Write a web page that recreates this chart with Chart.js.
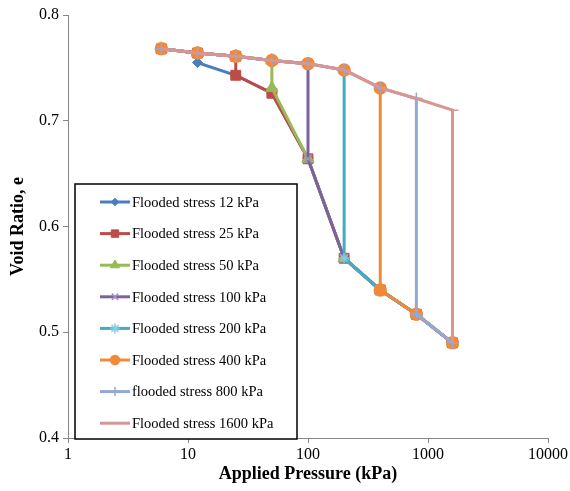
<!DOCTYPE html>
<html lang="en">
<head>
    <meta charset="UTF-8">
    <title>Void Ratio vs Applied Pressure</title>
    <script src="https://cdn.jsdelivr.net/npm/chart.js"></script>
    <style>
        body { margin: 0; background: #fff; }
    </style>
</head>
<body>
    <canvas id="chart" width="570" height="491"></canvas>

    <script>
        // Applied pressure steps (kPa) and the common loading curve before flooding
        const pressures = [6, 12, 25, 50, 100, 200, 400, 800, 1600];
        const dryCurve = [0.768, 0.764, 0.761, 0.757, 0.754, 0.748, 0.731, 0.721, 0.710];

        // Each series: flooding stress, void ratio right after flooding, then later steps
        const floodStress = [12, 25, 50, 100, 200, 400, 800, 1600];
        const wetCurve = {
            12:   [0.755, 0.743, 0.726, 0.664, 0.570, 0.540, 0.517, 0.490],
            25:   [0.743, 0.726, 0.664, 0.570, 0.540, 0.517, 0.490],
            50:   [0.731, 0.664, 0.570, 0.540, 0.517, 0.490],
            100:  [0.664, 0.570, 0.540, 0.517, 0.490],
            200:  [0.570, 0.540, 0.517, 0.490],
            400:  [0.540, 0.517, 0.490],
            800:  [0.517, 0.490],
            1600: [0.490]
        };

        const labels = [
            'Flooded stress 12 kPa', 'Flooded stress 25 kPa', 'Flooded stress 50 kPa',
            'Flooded stress 100 kPa', 'Flooded stress 200 kPa', 'Flooded stress 400 kPa',
            'flooded stress 800 kPa', 'Flooded stress 1600 kPa'
        ];
        const colors = ['#4a7ebb', '#be4b48', '#98b954', '#7d60a0', '#46aac5', '#f08a3a', '#92a9d4', '#d99593'];
        const markerColors = ['#4a7ebb', '#be4b48', '#98b954', '#a38fc4', '#7fcfe0', '#f08a3a', '#92a9d4', '#d99593'];

        // Excel-like asterisk marker (Chart.js has no true asterisk)
        function asterisk(color, size) {
            const c = document.createElement('canvas');
            c.width = size; c.height = size;
            const g = c.getContext('2d');
            const m = size / 2, r = size / 2 - 1;
            g.strokeStyle = color;
            g.lineWidth = 1.5;
            g.beginPath();
            for (let a = 0; a < 4; a++) {
                const t = a * Math.PI / 4;
                g.moveTo(m - r * Math.cos(t), m - r * Math.sin(t));
                g.lineTo(m + r * Math.cos(t), m + r * Math.sin(t));
            }
            g.stroke();
            return c;
        }

        const markers = ['rectRot', 'rect', 'triangle', 'crossRot', asterisk(markerColors[4], 12), 'circle', 'cross', 'dash'];
        const radii = [5, 7, 7, 6, 6, 6, 6, 6];

        function buildSeries(stress) {
            const pts = [];
            let k = 0;
            while (pressures[k] < stress) {
                pts.push({ x: pressures[k], y: dryCurve[k] });
                k++;
            }
            pts.push({ x: stress, y: dryCurve[k] });
            const wet = wetCurve[stress];
            for (let j = 0; j < wet.length; j++) {
                pts.push({ x: pressures[k + j], y: wet[j] });
            }
            return pts;
        }

        const datasets = floodStress.map((s, i) => ({
            label: labels[i],
            data: buildSeries(s),
            showLine: true,
            borderColor: colors[i],
            backgroundColor: colors[i],
            borderWidth: 3,
            pointStyle: markers[i],
            pointRadius: radii[i],
            pointBorderColor: markerColors[i],
            pointBackgroundColor: markerColors[i],
            pointBorderWidth: i >= 3 ? 1.5 : 1,
            order: floodStress.length - i   // later series on top, like Excel
        }));

        const serif = "'Liberation Serif', 'Times New Roman', serif";
        const axisGray = '#868686';

        // legend drawn inside the plot, bottom-left, with a black frame
        const insideLegend = {
            id: 'insideLegend',
            afterDatasetsDraw(chart) {
                const ctx = chart.ctx;
                const left = 75, top = 184, right = 297, bottom = 439;
                ctx.save();
                ctx.fillStyle = '#fff';
                ctx.fillRect(left, top, right - left, bottom - top);
                ctx.strokeStyle = '#000';
                ctx.lineWidth = 1.5;
                ctx.strokeRect(left, top, right - left, bottom - top);
                ctx.font = '14.5px ' + serif;
                ctx.textBaseline = 'middle';
                chart.data.datasets.forEach((ds, i) => {
                    const y = 202 + i * 31.6;
                    ctx.strokeStyle = ds.borderColor;
                    ctx.lineWidth = 3;
                    ctx.beginPath();
                    ctx.moveTo(100, y);
                    ctx.lineTo(130, y);
                    ctx.stroke();
                    if (ds.pointStyle !== 'dash') {
                        ctx.fillStyle = ds.pointBackgroundColor;
                        ctx.strokeStyle = ds.pointBorderColor;
                        ctx.lineWidth = ds.pointBorderWidth;
                        Chart.helpers.drawPoint(ctx, {
                            pointStyle: ds.pointStyle,
                            radius: ds.pointRadius * 0.75,
                            rotation: 0,
                            borderWidth: ds.pointBorderWidth
                        }, 115, y);
                    }
                    ctx.fillStyle = '#000';
                    ctx.fillText(ds.label, 132, y + 1);
                });
                ctx.restore();
            }
        };

        const ctx = document.getElementById('chart').getContext('2d');
        new Chart(ctx, {
            type: 'scatter',
            data: { datasets: datasets },
            plugins: [insideLegend],
            options: {
                responsive: false,
                animation: false,
                layout: { padding: { top: 15, right: 20, left: 0, bottom: 0 } },
                plugins: {
                    legend: { display: false },
                    tooltip: { enabled: false }
                },
                scales: {
                    x: {
                        type: 'logarithmic',
                        min: 1,
                        max: 10000,
                        afterBuildTicks: (scale) => {
                            scale.ticks = [1, 10, 100, 1000, 10000].map(v => ({ value: v, major: true }));
                        },
                        afterFit: (scale) => { scale.height = 53; },
                        border: { display: true, color: axisGray, width: 1 },
                        grid: { drawOnChartArea: false, drawTicks: true, tickLength: 5, color: axisGray },
                        ticks: {
                            color: '#000',
                            padding: 2,
                            maxRotation: 0,
                            font: { family: serif, size: 16 },
                            callback: (v) => String(v)
                        },
                        title: {
                            display: true,
                            text: 'Applied Pressure (kPa)',
                            color: '#000',
                            padding: { top: 0, bottom: 6 },
                            font: { family: serif, size: 18, weight: 'bold' }
                        }
                    },
                    y: {
                        min: 0.4,
                        max: 0.8,
                        afterFit: (scale) => { scale.width = 68; },
                        border: { display: true, color: axisGray, width: 1 },
                        grid: { drawOnChartArea: false, drawTicks: true, tickLength: 5, color: axisGray },
                        ticks: {
                            stepSize: 0.1,
                            color: '#000',
                            padding: 4,
                            font: { family: serif, size: 16 },
                            callback: (v) => v.toFixed(1)
                        },
                        title: {
                            display: true,
                            text: 'Void Ratio, e',
                            color: '#000',
                            padding: { top: 8, bottom: 0 },
                            font: { family: serif, size: 18, weight: 'bold' }
                        }
                    }
                }
            }
        });
    </script>
</body>
</html>
